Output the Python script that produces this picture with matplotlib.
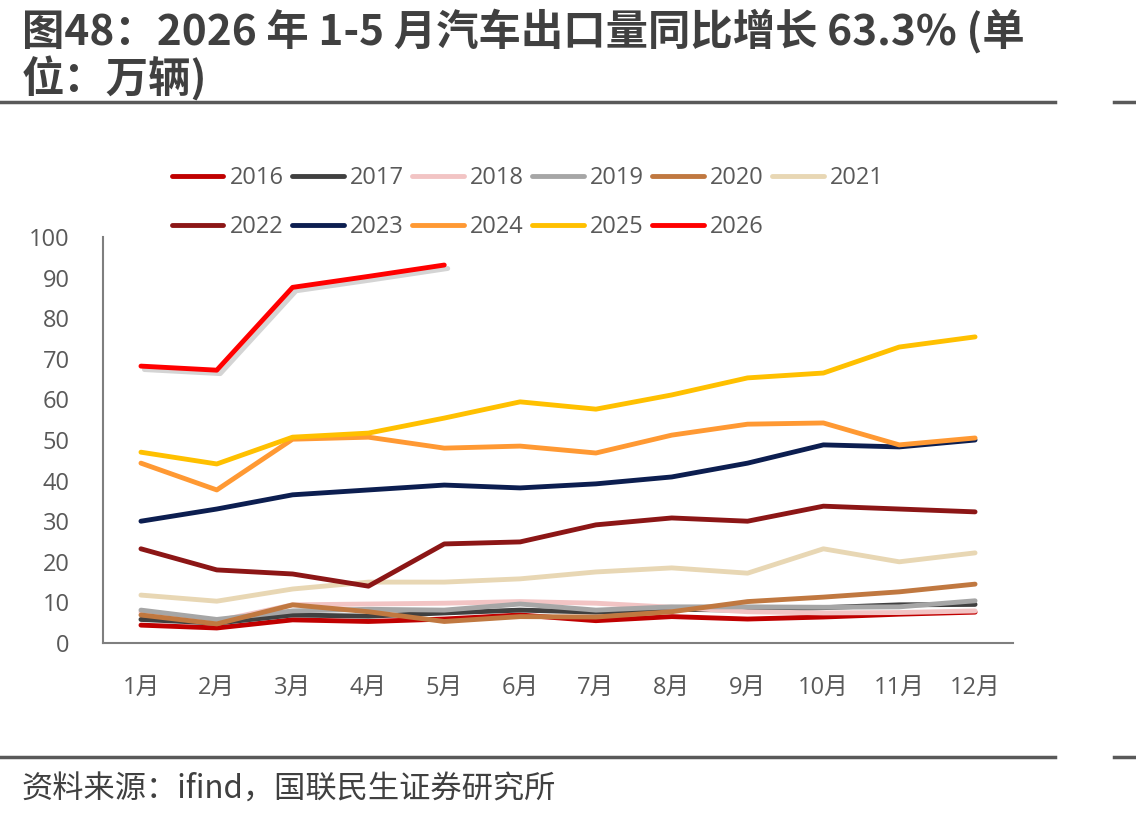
import matplotlib
matplotlib.use("Agg")
import matplotlib.pyplot as plt
import matplotlib.patheffects as pe
from matplotlib.lines import Line2D

plt.rcParams['font.family'] = ['Open Sans', 'Noto Sans CJK SC', 'DejaVu Sans']

months = ["1月", "2月", "3月", "4月", "5月", "6月", "7月", "8月", "9月", "10月", "11月", "12月"]

y2016 = [4.4, 3.7, 5.7, 5.3, 5.9, 6.9, 5.5, 6.5, 5.9, 6.4, 7.1, 7.6]
y2017 = [5.8, 4.9, 6.9, 6.6, 7.4, 8.1, 7.6, 8.3, 8.1, 8.7, 9.4, 9.5]
y2018 = [7.6, 5.4, 9.4, 9.6, 9.8, 10.2, 9.8, 8.8, 7.7, 7.4, 7.5, 7.9]
y2019 = [8.1, 5.8, 7.9, 8.3, 8.1, 9.6, 8.1, 8.9, 8.9, 8.8, 8.9, 10.4]
y2020 = [6.9, 4.7, 9.4, 7.7, 5.3, 6.5, 6.4, 7.7, 10.2, 11.3, 12.6, 14.5]
y2021 = [11.8, 10.3, 13.3, 15.0, 15.0, 15.8, 17.5, 18.5, 17.2, 23.2, 20.0, 22.2]
y2022 = [23.2, 18.0, 17.0, 14.0, 24.4, 24.9, 29.1, 30.8, 30.0, 33.7, 33.0, 32.3]
y2023 = [30.0, 33.0, 36.5, 37.7, 38.9, 38.2, 39.2, 40.9, 44.3, 48.8, 48.3, 50.0]
y2024 = [44.3, 37.7, 50.2, 50.7, 48.0, 48.5, 46.8, 51.2, 53.9, 54.2, 48.8, 50.5]
y2025 = [47.0, 44.1, 50.7, 51.7, 55.4, 59.4, 57.6, 61.1, 65.3, 66.5, 72.9, 75.4]
y2026 = [68.2, 67.2, 87.6, 90.3, 93.1]

series = [
    ("2016", y2016, "#C00000"),
    ("2017", y2017, "#404040"),
    ("2018", y2018, "#F2C4C4"),
    ("2019", y2019, "#A6A6A6"),
    ("2020", y2020, "#C07840"),
    ("2021", y2021, "#E8D7B4"),
    ("2022", y2022, "#8C1616"),
    ("2023", y2023, "#0C1E50"),
    ("2024", y2024, "#FF9933"),
    ("2025", y2025, "#FFC000"),
    ("2026", y2026, "#FF0000"),
]

fig = plt.figure(figsize=(11.36, 8.19), dpi=100)
ax = fig.add_axes([0.0907, 0.2149, 0.801, 0.4957])

handles = {}
for name, vals, col in series:
    x = list(range(len(vals)))
    ln, = ax.plot(x, vals, color=col, lw=3.5, solid_capstyle='round')
    if name == "2026":
        ln.set_path_effects([pe.SimpleLineShadow(offset=(2.5, -2.5), shadow_color='#a0a0a0', alpha=0.45),
                             pe.Normal()])
    handles[name] = Line2D([], [], color=col, lw=3.5, solid_capstyle='round')

ax.set_xlim(-0.5, 11.5)
ax.set_ylim(0, 100)
ax.set_yticks(range(0, 101, 10))
ax.set_xticks(range(12))
ax.set_xticklabels(months)
ax.tick_params(length=0, labelsize=17, colors='#595959')
ax.tick_params(axis='x', pad=24)
ax.tick_params(axis='y', pad=24)
for s in ['top', 'right']:
    ax.spines[s].set_visible(False)
for s in ['left', 'bottom']:
    ax.spines[s].set_color('#7f7f7f')
    ax.spines[s].set_linewidth(1.5)

order = ["2016", "2022", "2017", "2023", "2018", "2024", "2019", "2025", "2020", "2026", "2021"]
leg = fig.legend([handles[k] for k in order], order, ncol=6, loc='upper left',
                 bbox_to_anchor=(0.151, 0.797), frameon=False, fontsize=17,
                 handlelength=2.2, handletextpad=0.25, columnspacing=0.35,
                 labelspacing=1.05, borderpad=0, borderaxespad=0)
for t in leg.get_texts():
    t.set_color('#595959')

fig.text(0.019, 0.99, "图48：2026 年 1-5 月汽车出口量同比增长 63.3% (单\n位：万辆)",
         fontsize=30.5, fontweight='bold', color='#404040', va='top', linespacing=1.1,
         family=['Noto Sans CJK SC', 'DejaVu Sans'])

fig.add_artist(plt.Line2D([0, 0.929], [0.875, 0.875], color='#595959', lw=2.5))
fig.add_artist(plt.Line2D([0.981, 1.0], [0.875, 0.875], color='#595959', lw=2.5))
fig.add_artist(plt.Line2D([0, 0.929], [0.076, 0.076], color='#595959', lw=2.5))
fig.add_artist(plt.Line2D([0.981, 1.0], [0.076, 0.076], color='#595959', lw=2.5))

fig.text(0.019, 0.0354, "资料来源：ifind，国联民生证券研究所", fontsize=22.5, color='#404040',
         va='center', family=['Noto Sans CJK SC', 'DejaVu Sans'])

fig.savefig("out.png", dpi=100)
